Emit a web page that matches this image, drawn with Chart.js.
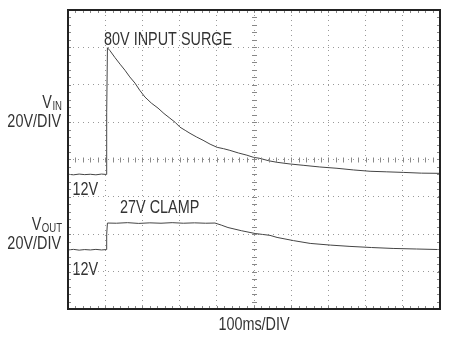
<!DOCTYPE html>
<html>
<head>
<meta charset="utf-8">
<script src="https://cdn.jsdelivr.net/npm/chart.js@4/dist/chart.umd.min.js"></script>
<style>
  html, body { margin: 0; padding: 0; background: #fff; }
  #wrap { width: 449px; height: 337px; }
</style>
</head>
<body>
<div id="wrap"><canvas id="scope" width="449" height="337"></canvas></div>
<script>
// time in ms (100ms/DIV, 10 divisions), voltages in V (20V/DIV)
const vinTime = [0, 15, 30, 45, 60, 75, 90, 103, 104, 106, 113, 126, 140, 153, 166, 180, 193, 207, 224, 242, 258, 274, 288, 301, 315, 328, 346, 363, 382, 401, 418, 435, 458, 481, 498, 516, 540, 562, 597, 632, 677, 723, 768, 812, 857, 901, 950, 1000];
const vinVolts = [12.1, 11.8, 12.2, 11.9, 12.1, 11.8, 12.2, 12.0, 45, 79.8, 78.2, 74.6, 71.0, 67.8, 64.2, 60.9, 57.0, 53.4, 50.2, 47.5, 44.6, 42.1, 39.9, 37.3, 35.6, 34.0, 32.0, 30.3, 28.2, 26.5, 25.8, 24.9, 23.5, 22.3, 21.2, 20.6, 19.3, 18.5, 17.6, 16.9, 16.0, 15.3, 14.4, 13.7, 13.4, 13.1, 12.7, 12.6];

const voutTime = [0, 15, 30, 45, 60, 75, 90, 103, 104, 106, 130, 160, 190, 220, 250, 280, 310, 340, 370, 395, 412, 430, 466, 503, 523, 543, 562, 606, 651, 705, 758, 816, 874, 937, 1000];
const voutVolts = [11.6, 11.9, 11.5, 11.8, 11.6, 11.9, 11.6, 11.8, 20, 26.0, 25.9, 26.2, 25.8, 26.1, 25.9, 26.2, 25.9, 26.1, 25.9, 26.0, 24.9, 23.6, 21.9, 20.4, 19.9, 19.4, 18.3, 16.6, 15.1, 14.2, 13.5, 12.9, 12.4, 12.1, 11.8];

// ground position of each trace, in divisions from the bottom
const vinGround = 3;
const voutGround = 1;
const voltsPerDiv = 20;

const toPoints = (times, volts, ground) =>
  times.map((t, i) => ({ x: t, y: ground + volts[i] / voltsPerDiv }));

// text annotations: [text, x (ms), y (div) of the baseline]
const traceLabels = [
  ['80V INPUT SURGE', 97, 7.06],
  ['27V CLAMP', 140, 2.56],
  ['12V', 12, 3.04],
  ['12V', 12, 0.9]
];

const INK = '#333';
const NARROW = 0.8;
const FONT_SIZE = 18;

function drawText(ctx, text, x, y, size, align) {
  ctx.save();
  ctx.font = size + 'px "Liberation Sans", Arial, sans-serif';
  ctx.textBaseline = 'alphabetic';
  ctx.fillStyle = INK;
  const w = ctx.measureText(text).width * NARROW;
  let x0 = x;
  if (align === 'right') x0 = x - w;
  if (align === 'center') x0 = x - w / 2;
  ctx.translate(x0, y);
  ctx.scale(NARROW, 1);
  ctx.fillText(text, 0, 0);
  ctx.restore();
  return w;
}

// channel label with subscript, right aligned at x
function drawChannel(ctx, main, sub, x, y) {
  ctx.save();
  ctx.font = '12px "Liberation Sans", Arial, sans-serif';
  const subW = ctx.measureText(sub).width * NARROW;
  ctx.restore();
  drawText(ctx, sub, x, y + 2, 12, 'right');
  drawText(ctx, main, x - subW - 0.5, y, FONT_SIZE, 'right');
}

const scopeDecor = {
  id: 'scopeDecor',
  afterDraw(chart) {
    const { ctx, chartArea: a, scales: { x, y } } = chart;

    // minor ticks: 5 per division along the frame and the centre lines
    ctx.save();
    ctx.strokeStyle = '#888';
    ctx.lineWidth = 1;
    const cx = x.getPixelForValue(500);
    const cy = y.getPixelForValue(4);
    ctx.beginPath();
    for (let t = 0; t <= 1000; t += 20) {
      const px = Math.round(x.getPixelForValue(t)) + 0.5;
      ctx.moveTo(px, a.top); ctx.lineTo(px, a.top + 3);
      ctx.moveTo(px, a.bottom); ctx.lineTo(px, a.bottom - 3);
      ctx.moveTo(px, cy - 2); ctx.lineTo(px, cy + 3);
    }
    for (let d = 0; d <= 8; d += 0.2) {
      const py = Math.round(y.getPixelForValue(d)) + 0.5;
      ctx.moveTo(a.left, py); ctx.lineTo(a.left + 3, py);
      ctx.moveTo(a.right, py); ctx.lineTo(a.right - 3, py);
      ctx.moveTo(cx - 2, py); ctx.lineTo(cx + 3, py);
    }
    ctx.stroke();

    // frame
    ctx.strokeStyle = '#222';
    ctx.lineWidth = 2;
    ctx.strokeRect(a.left, a.top, a.right - a.left, a.bottom - a.top);
    ctx.restore();

    traceLabels.forEach(([text, t, d]) => {
      drawText(ctx, text, x.getPixelForValue(t), y.getPixelForValue(d), FONT_SIZE, 'left');
    });

    drawChannel(ctx, 'V', 'IN', 62, 108);
    drawText(ctx, '20V/DIV', 61, 127, FONT_SIZE, 'right');
    drawChannel(ctx, 'V', 'OUT', 62, 230);
    drawText(ctx, '20V/DIV', 61, 249, FONT_SIZE, 'right');
    drawText(ctx, '100ms/DIV', (a.left + a.right) / 2, 330, FONT_SIZE, 'center');
  }
};

new Chart(document.getElementById('scope'), {
  type: 'line',
  data: {
    datasets: [
      {
        label: 'VIN',
        data: toPoints(vinTime, vinVolts, vinGround),
        borderColor: '#444',
        borderWidth: 1,
        pointRadius: 0,
        tension: 0
      },
      {
        label: 'VOUT',
        data: toPoints(voutTime, voutVolts, voutGround),
        borderColor: '#444',
        borderWidth: 1,
        pointRadius: 0,
        tension: 0
      }
    ]
  },
  options: {
    responsive: false,
    animation: false,
    layout: { padding: { left: 68, top: 10, right: 9, bottom: 28 } },
    plugins: {
      legend: { display: false },
      tooltip: { enabled: false },
      title: { display: false }
    },
    scales: {
      x: {
        type: 'linear',
        min: 0,
        max: 1000,
        ticks: { display: false, stepSize: 100 },
        grid: { color: '#999', drawTicks: false, tickLength: 0 },
        border: { display: false, dash: [1, 4] }
      },
      y: {
        type: 'linear',
        min: 0,
        max: 8,
        ticks: { display: false, stepSize: 1 },
        grid: { color: '#999', drawTicks: false, tickLength: 0 },
        border: { display: false, dash: [1, 4] }
      }
    }
  },
  plugins: [scopeDecor]
});
</script>
</body>
</html>
